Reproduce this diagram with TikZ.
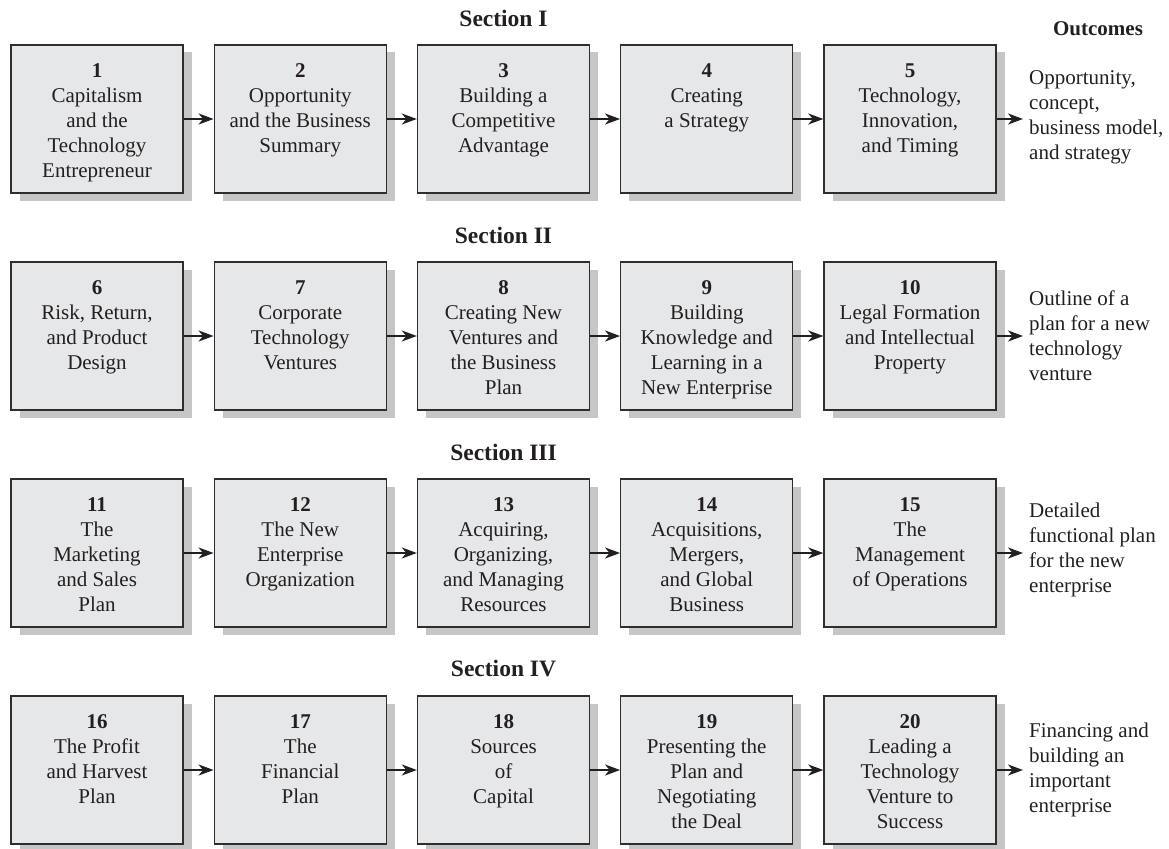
\documentclass[tikz,border=0pt]{standalone}
\usepackage{fontspec}
\setmainfont{Liberation Serif}
\usetikzlibrary{arrows.meta,shadows}
\definecolor{boxfill}{HTML}{E6E7E8}
\definecolor{boxline}{HTML}{2E2E2E}
\definecolor{shadowgray}{HTML}{C6C6C6}
\definecolor{ink}{HTML}{231F20}
\newcommand\fsz{\fontsize{21}{25}\selectfont}
\newcommand\secsz{\fontsize{23.5}{28}\selectfont\bfseries}
\tikzset{
  box/.style={draw=boxline, fill=boxfill, line width=1.4pt, minimum width=172pt,
    minimum height=148pt, inner sep=0pt,
    drop shadow={shadow xshift=8.5pt, shadow yshift=-7.5pt, fill=shadowgray, opacity=1}},
  btext/.style={anchor=north, align=center, inner sep=0pt, font=\fsz, text=ink},
  otext/.style={anchor=west, align=left, inner sep=0pt, font=\fsz, text=ink},
  sec/.style={inner sep=0pt, font=\secsz, text=ink},
  arr/.style={line width=2pt, draw=ink, -{Stealth[length=15pt, width=11pt, inset=4.5pt]}},
}
\begin{document}
\begin{tikzpicture}[x=1pt,y=-1pt]
\useasboundingbox (0,0) rectangle (1169,848);

% Section titles
\node[sec] (s1) at (503.5,18) {Section I};
\node[sec] (s2) at (503.5,235) {Section II};
\node[sec] (s3) at (503.5,452) {Section III};
\node[sec] (s4) at (503.5,669) {Section IV};
\node[inner sep=0pt, font=\fsz\bfseries, text=ink] (oc) at (1098,29) {Outcomes};

% Row 1
\node[box] (b1) at (97,119) {};
\node[box] (b2) at (300.25,119) {};
\node[box] (b3) at (503.5,119) {};
\node[box] (b4) at (706.75,119) {};
\node[box] (b5) at (910,119) {};
\node[btext] (t1) at ([yshift=-19pt]b1.north) {\textbf{1}\\Capitalism\\and the\\Technology\\Entrepreneur};
\node[btext] (t2) at ([yshift=-19pt]b2.north) {\textbf{2}\\Opportunity\\and the Business\\Summary};
\node[btext] (t3) at ([yshift=-19pt]b3.north) {\textbf{3}\\Building a\\Competitive\\Advantage};
\node[btext] (t4) at ([yshift=-19pt]b4.north) {\textbf{4}\\Creating\\a Strategy};
\node[btext] (t5) at ([yshift=-19pt]b5.north) {\textbf{5}\\Technology,\\Innovation,\\and Timing};
\coordinate (o1) at (1023,119);
\node[otext] (out1) at (1029,117) {Opportunity,\\concept,\\business model,\\and strategy};

% Row 2
\node[box] (b6) at (97,336) {};
\node[box] (b7) at (300.25,336) {};
\node[box] (b8) at (503.5,336) {};
\node[box] (b9) at (706.75,336) {};
\node[box] (b10) at (910,336) {};
\node[btext] (t6) at ([yshift=-19pt]b6.north) {\textbf{6}\\Risk, Return,\\and Product\\Design};
\node[btext] (t7) at ([yshift=-19pt]b7.north) {\textbf{7}\\Corporate\\Technology\\Ventures};
\node[btext] (t8) at ([yshift=-19pt]b8.north) {\textbf{8}\\Creating New\\Ventures and\\the Business\\Plan};
\node[btext] (t9) at ([yshift=-19pt]b9.north) {\textbf{9}\\Building\\Knowledge and\\Learning in a\\New Enterprise};
\node[btext] (t10) at ([yshift=-19pt]b10.north) {\textbf{10}\\Legal Formation\\and Intellectual\\Property};
\coordinate (o2) at (1023,336);
\node[otext] (out2) at (1029,336) {Outline of a\\plan for a new\\technology\\venture};

% Row 3
\node[box] (b11) at (97,553) {};
\node[box] (b12) at (300.25,553) {};
\node[box] (b13) at (503.5,553) {};
\node[box] (b14) at (706.75,553) {};
\node[box] (b15) at (910,553) {};
\node[btext] (t11) at ([yshift=-19pt]b11.north) {\textbf{11}\\The\\Marketing\\and Sales\\Plan};
\node[btext] (t12) at ([yshift=-19pt]b12.north) {\textbf{12}\\The New\\Enterprise\\Organization};
\node[btext] (t13) at ([yshift=-19pt]b13.north) {\textbf{13}\\Acquiring,\\Organizing,\\and Managing\\Resources};
\node[btext] (t14) at ([yshift=-19pt]b14.north) {\textbf{14}\\Acquisitions,\\Mergers,\\and Global\\Business};
\node[btext] (t15) at ([yshift=-19pt]b15.north) {\textbf{15}\\The\\Management\\of Operations};
\coordinate (o3) at (1023,553);
\node[otext] (out3) at (1029,550) {Detailed\\functional plan\\for the new\\enterprise};

% Row 4
\node[box] (b16) at (97,770) {};
\node[box] (b17) at (300.25,770) {};
\node[box] (b18) at (503.5,770) {};
\node[box] (b19) at (706.75,770) {};
\node[box] (b20) at (910,770) {};
\node[btext] (t16) at ([yshift=-19pt]b16.north) {\textbf{16}\\The Profit\\and Harvest\\Plan};
\node[btext] (t17) at ([yshift=-19pt]b17.north) {\textbf{17}\\The\\Financial\\Plan};
\node[btext] (t18) at ([yshift=-19pt]b18.north) {\textbf{18}\\Sources\\of\\Capital};
\node[btext] (t19) at ([yshift=-19pt]b19.north) {\textbf{19}\\Presenting the\\Plan and\\Negotiating\\the Deal};
\node[btext] (t20) at ([yshift=-19pt]b20.north) {\textbf{20}\\Leading a\\Technology\\Venture to\\Success};
\coordinate (o4) at (1023,770);
\node[otext] (out4) at (1029,770) {Financing and\\building an\\important\\enterprise};

% Arrows
\foreach \a/\b in {b1/b2,b2/b3,b3/b4,b4/b5,b6/b7,b7/b8,b8/b9,b9/b10,
                   b11/b12,b12/b13,b13/b14,b14/b15,b16/b17,b17/b18,b18/b19,b19/b20}
  \draw[arr] (\a.east) -- (\b.west);
\draw[arr] (b5.east) -- (o1);
\draw[arr] (b10.east) -- (o2);
\draw[arr] (b15.east) -- (o3);
\draw[arr] (b20.east) -- (o4);
\end{tikzpicture}
\end{document}
